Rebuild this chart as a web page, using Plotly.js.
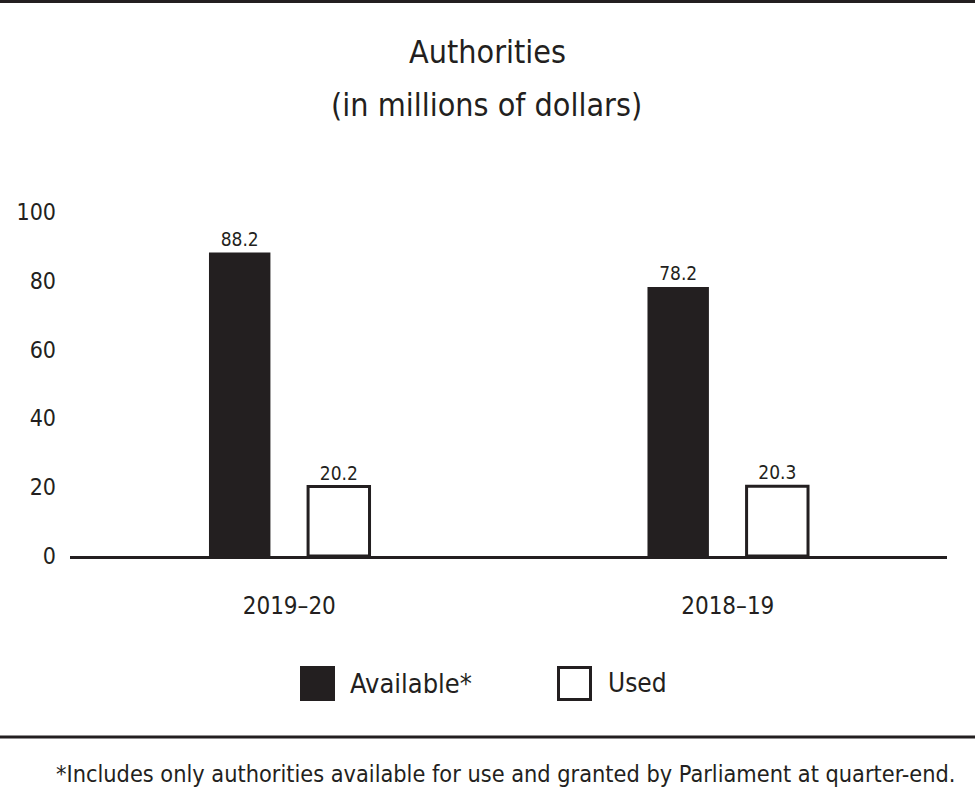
<!DOCTYPE html>
<html>
<head>
<meta charset="utf-8">
<script src="https://cdn.plot.ly/plotly-3.0.1.min.js"></script>
<style>html,body{margin:0;padding:0;background:#fff;}#chart{width:975px;height:797px;}</style>
</head>
<body>
<div id="chart"></div>
<script>
// ---- data ----
const categories = ["2019\u201320", "2018\u201319"];
const availableValues = [88.2, 78.2];
const usedValues = [20.2, 20.3];
const seriesNames = ["Available*", "Used"];
const yTickValues = [0, 20, 40, 60, 80, 100];
const titleLine1 = "Authorities";
const titleLine2 = "(in millions of dollars)";
const footnote = "*Includes only authorities available for use and granted by Parliament at quarter-end.";

// ---- layout helpers ----
const W = 975, H = 797;
const M = {l: 70, r: 28, t: 212, b: 241};
const PW = W - M.l - M.r, PH = H - M.t - M.b;
const px = x => (x - M.l) / PW;
const py = y => (H - M.b - y) / PH;
const INK = "#231f20";
const FONT = "DejaVu Sans Condensed, DejaVu Sans";
const f = (size) => ({family: FONT, size: size, color: INK, stretch: "condensed"});

const traces = [
  {
    type: "bar", x: categories, y: availableValues, name: seriesNames[0],
    marker: {color: INK, line: {width: 0}},
    texttemplate: "%{y:.1f}", textposition: "outside",
    textfont: f(19),
    cliponaxis: false, showlegend: false, hoverinfo: "skip"
  },
  {
    type: "bar", x: categories, y: usedValues, name: seriesNames[1],
    marker: {color: "#ffffff", line: {width: 3, color: INK}},
    texttemplate: "%{y:.1f}", textposition: "outside",
    textfont: f(19),
    cliponaxis: false, showlegend: false, hoverinfo: "skip"
  }
];

const layout = {
  width: W, height: H,
  margin: M,
  paper_bgcolor: "#fff", plot_bgcolor: "#fff",
  font: f(16),
  barmode: "group", bargap: 0.548, bargroupgap: 0.38,
  title: {
    text: titleLine1, x: 487.5 / W, xref: "container", y: 1 - 52 / H, yref: "container",
    yanchor: "middle", xanchor: "center",
    font: f(32)
  },
  xaxis: {
    type: "category", showline: true, linewidth: 3, linecolor: INK,
    ticks: "", showgrid: false, zeroline: false,
    tickfont: f(24),
    ticklabelstandoff: 26, fixedrange: true
  },
  yaxis: {
    range: [0, 100], tickvals: yTickValues, ticks: "", showline: false,
    showgrid: false, zeroline: false,
    tickfont: f(23),
    ticklabelstandoff: 13, fixedrange: true
  },
  showlegend: false,
  shapes: [
    {type: "line", xref: "paper", yref: "paper", x0: px(0), x1: px(W), y0: py(1.5), y1: py(1.5), line: {color: INK, width: 3}},
    {type: "line", xref: "paper", yref: "paper", x0: px(0), x1: px(W), y0: py(737), y1: py(737), line: {color: INK, width: 3}},
    {type: "rect", xref: "paper", yref: "paper", x0: px(300), x1: px(335), y0: py(701), y1: py(666), fillcolor: INK, line: {width: 0}},
    {type: "rect", xref: "paper", yref: "paper", x0: px(558.5), x1: px(590.5), y0: py(699.5), y1: py(667.5), fillcolor: "#fff", line: {color: INK, width: 3}}
  ],
  annotations: [
    {text: titleLine2, xref: "paper", yref: "paper", x: px(486.5), xanchor: "center", y: py(105), yanchor: "middle", showarrow: false, font: f(32)},
    {text: seriesNames[0], xref: "paper", yref: "paper", x: px(348), xanchor: "left", y: py(683), yanchor: "middle", showarrow: false, font: f(27)},
    {text: seriesNames[1], xref: "paper", yref: "paper", x: px(606), xanchor: "left", y: py(683), yanchor: "middle", showarrow: false, font: f(26)},
    {text: footnote, xref: "paper", yref: "paper", x: px(958), xanchor: "right", y: py(773), yanchor: "middle", showarrow: false, font: f(23.3)}
  ]
};

Plotly.newPlot("chart", traces, layout, {staticPlot: true, displayModeBar: false});
</script>
</body>
</html>
